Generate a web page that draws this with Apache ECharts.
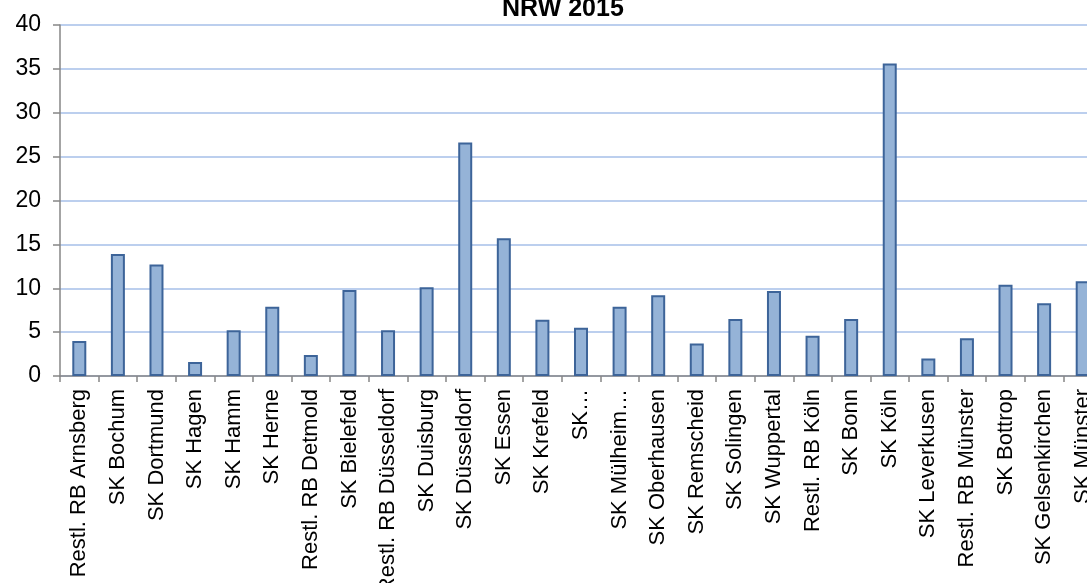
<!DOCTYPE html>
<html>
<head>
<meta charset="utf-8">
<script src="https://cdn.jsdelivr.net/npm/echarts@6/dist/echarts.min.js"></script>
<style>html,body{margin:0;padding:0;background:#fff;}#c{width:1087px;height:583px;}</style>
</head>
<body>
<div id="c"></div>
<script>
const titleText = 'NRW 2015';
const categories = ['Restl. RB Arnsberg','SK Bochum','SK Dortmund','SK Hagen','SK Hamm','SK Herne','Restl. RB Detmold','SK Bielefeld','Restl. RB Düsseldorf','SK Duisburg','SK Düsseldorf','SK Essen','SK Krefeld','SK…','SK Mülheim…','SK Oberhausen','SK Remscheid','SK Solingen','SK Wuppertal','Restl. RB Köln','SK Bonn','SK Köln','SK Leverkusen','Restl. RB Münster','SK Bottrop','SK Gelsenkirchen','SK Münster'];
const values = [4.0,13.9,12.7,1.6,5.2,7.9,2.4,9.8,5.2,10.1,26.6,15.7,6.4,5.5,7.9,9.2,3.7,6.5,9.7,4.6,6.5,35.6,2.0,4.3,10.4,8.3,10.8];
const yTicks = [0,5,10,15,20,25,30,35,40];

const chart = echarts.init(document.getElementById('c'), null, {renderer:'canvas'});
chart.setOption({
  animation:false,
  title:{text:titleText,left:497,top:-8,textStyle:{fontFamily:'Liberation Sans, Arial',fontWeight:'bold',fontSize:25,color:'#000'}},
  grid:{left:60,top:25,width:1042,height:351,containLabel:false,outerBoundsMode:'none'},
  xAxis:{type:'category',data:categories,boundaryGap:true,
    axisLine:{lineStyle:{color:'#868686',width:1.5}},
    axisTick:{show:true,alignWithLabel:false,length:6,lineStyle:{color:'#868686',width:1.5}},
    axisLabel:{rotate:90,interval:0,margin:13,fontFamily:'Liberation Sans, Arial',fontSize:22,color:'#000'}},
  yAxis:{type:'value',min:yTicks[0],max:yTicks[yTicks.length-1],interval:5,
    axisLine:{show:true,lineStyle:{color:'#868686',width:1.5}},
    axisTick:{show:true,length:7,lineStyle:{color:'#868686',width:1.5}},
    axisLabel:{margin:19,fontFamily:'Liberation Sans, Arial',fontSize:23,color:'#000'},
    splitLine:{show:true,lineStyle:{color:'#a6bfe8',width:1.5}}},
  series:[{type:'bar',data:values,barWidth:14,
    itemStyle:{color:'#95b3d7',borderColor:'#3d6499',borderWidth:2}}]
});
</script>
</body>
</html>
